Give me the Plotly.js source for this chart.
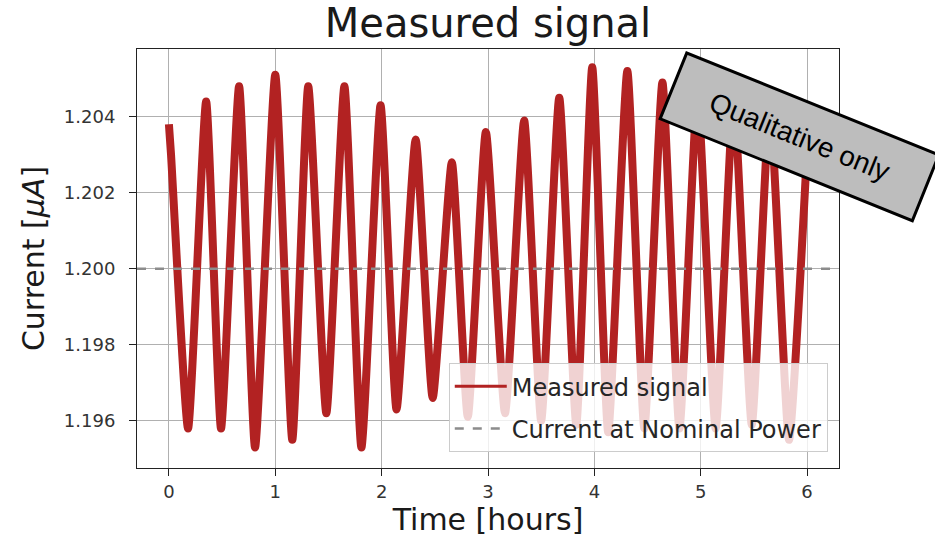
<!DOCTYPE html>
<html>
<head>
<meta charset="utf-8">
<script src="https://cdn.plot.ly/plotly-3.0.1.min.js"></script>
<style>
  html, body { margin: 0; padding: 0; background: #ffffff; }
  #chart { width: 935px; height: 540px; }
</style>
</head>
<body>
<div id="chart"></div>
<script>
// Time in hours of the read-off turning points of the measured signal
const timeHours = [0.00, 0.02, 0.18, 0.35, 0.49, 0.66, 0.81, 1.00, 1.16, 1.31,
                   1.48, 1.65, 1.81, 1.99, 2.14, 2.32, 2.48, 2.66, 2.81, 2.98,
                   3.16, 3.34, 3.50, 3.67, 3.83, 3.98, 4.13, 4.31, 4.47, 4.64,
                   4.80, 4.97, 5.14, 5.31, 5.48, 5.65, 5.83, 5.99];
// Current in microampere at those times
const currentMicroA = [1.2038, 1.2030, 1.1958, 1.2044, 1.1958, 1.2048, 1.1953, 1.2051, 1.1955, 1.2048,
                       1.1962, 1.2048, 1.1953, 1.2043, 1.1963, 1.2034, 1.1966, 1.2028, 1.1961, 1.2036,
                       1.1962, 1.2039, 1.1960, 1.2045, 1.1959, 1.2053, 1.1957, 1.2052, 1.1958, 1.2049,
                       1.1958, 1.2046, 1.1958, 1.2045, 1.1959, 1.2043, 1.1955, 1.2026];
const nominalCurrent = 1.200;
const xTicks = [0, 1, 2, 3, 4, 5, 6];
const yTicks = [1.196, 1.198, 1.200, 1.202, 1.204];
const yTickLabels = ['1.196', '1.198', '1.200', '1.202', '1.204'];

const FONT = 'DejaVu Sans, Verdana, sans-serif';
const SIGNAL_COLOR = '#b22222';
const NOMINAL_COLOR = '#8c8c8c';

const traces = [
  {
    x: timeHours, y: currentMicroA, type: 'scatter', mode: 'lines',
    name: 'Measured signal', showlegend: false,
    line: { color: SIGNAL_COLOR, width: 8, shape: 'spline', smoothing: 0.5 }
  },
  {
    x: [null], y: [null], type: 'scatter', mode: 'lines',
    name: 'Measured signal', legendgroup: 'a',
    line: { color: SIGNAL_COLOR, width: 3 }
  },
  {
    x: [null], y: [null], type: 'scatter', mode: 'lines',
    name: 'Current at Nominal Power', legendgroup: 'b',
    line: { color: NOMINAL_COLOR, width: 2.5, dash: 'dash' }
  }
];

const layout = {
  width: 935, height: 540,
  margin: { l: 137, r: 96, t: 49, b: 72 },
  paper_bgcolor: '#ffffff', plot_bgcolor: '#ffffff',
  font: { family: FONT, color: '#262626' },
  title: {
    text: 'Measured signal',
    font: { family: FONT, size: 40, color: '#1a1a1a' },
    x: 0.5, xref: 'paper', xanchor: 'center',
    y: 0.932, yref: 'container', yanchor: 'bottom'
  },
  xaxis: {
    range: [-0.3, 6.3],
    tickvals: xTicks, ticktext: xTicks.map(String),
    showgrid: true, gridcolor: '#b0b0b0', gridwidth: 1,
    zeroline: false,
    showline: true, linecolor: '#222222', linewidth: 1, mirror: true,
    ticks: 'outside', ticklen: 7, tickcolor: '#222222',
    tickfont: { family: FONT, size: 18, color: '#333333' },
    title: { text: 'Time [hours]', font: { family: FONT, size: 30, color: '#1a1a1a' }, standoff: 8 }
  },
  yaxis: {
    range: [1.19476, 1.20578],
    tickvals: yTicks, ticktext: yTickLabels,
    showgrid: true, gridcolor: '#b0b0b0', gridwidth: 1,
    zeroline: false,
    showline: true, linecolor: '#222222', linewidth: 1, mirror: true,
    ticks: 'outside', ticklen: 7, tickcolor: '#222222', ticklabelstandoff: 10,
    tickfont: { family: FONT, size: 18, color: '#333333' },
    title: { text: 'Current [<i>μA</i>]', font: { family: FONT, size: 30, color: '#1a1a1a' }, standoff: 10 }
  },
  shapes: [
    {
      type: 'line', xref: 'paper', x0: 0, x1: 1, yref: 'y', y0: nominalCurrent, y1: nominalCurrent,
      line: { color: NOMINAL_COLOR, width: 2.5, dash: 'dash' }, layer: 'above'
    }
  ],
  showlegend: true,
  legend: {
    x: 0.984, xanchor: 'right', y: 0.038, yanchor: 'bottom',
    bgcolor: 'rgba(255,255,255,0.8)', bordercolor: '#cccccc', borderwidth: 1,
    font: { family: FONT, size: 24, color: '#262626' },
    traceorder: 'grouped', tracegroupgap: 8, itemwidth: 52
  },
  annotations: [
    {
      text: 'Qualitative only', xref: 'paper', yref: 'paper',
      x: 0.9444, y: 0.79, xanchor: 'center', yanchor: 'middle',
      showarrow: false, textangle: 22,
      width: 267, height: 66,
      bgcolor: '#bdbdbd', bordercolor: '#000000', borderwidth: 3, borderpad: 1,
      font: { family: 'Liberation Sans, Arial, sans-serif', size: 28, color: '#000000' }
    }
  ]
};

Plotly.newPlot('chart', traces, layout, { displayModeBar: false, staticPlot: true });
</script>
</body>
</html>
